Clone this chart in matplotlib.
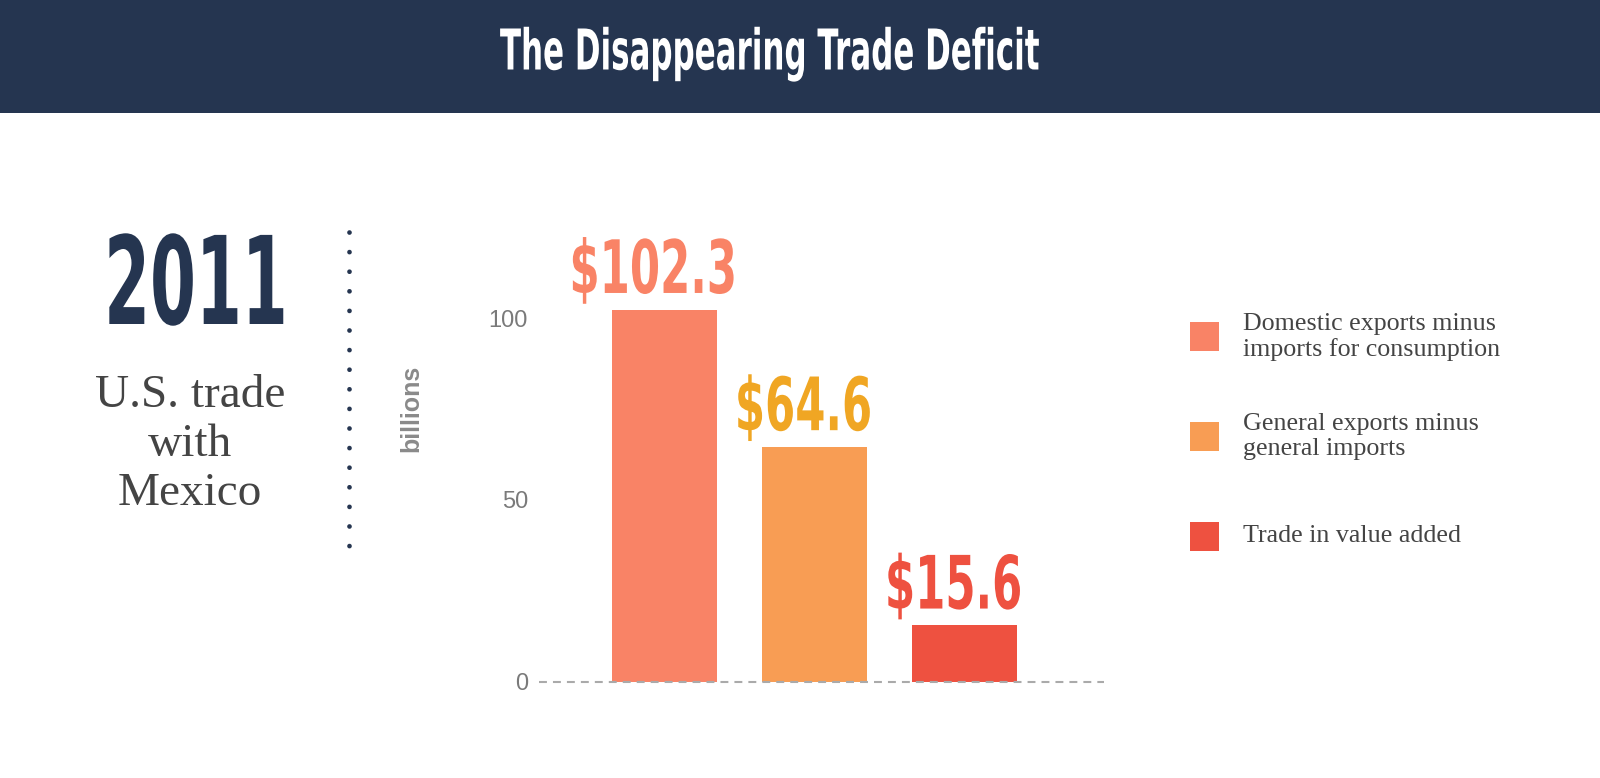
import numpy as np
import matplotlib
matplotlib.use("Agg")
import matplotlib.pyplot as plt
from matplotlib.patches import Rectangle
from matplotlib.lines import Line2D
from matplotlib.patheffects import AbstractPathEffect
from matplotlib.transforms import Affine2D

# ---------------- data ----------------
title = "The Disappearing Trade Deficit"
year = "2011"
subtitle = "U.S. trade\nwith\nMexico"
categories = ["Domestic exports minus\nimports for consumption",
              "General exports minus\ngeneral imports",
              "Trade in value added"]
values = [102.3, 64.6, 15.6]
value_labels = ["$102.3", "$64.6", "$15.6"]
yticks = [0, 50, 100]
ylabel = "billions"

# ---------------- styles ----------------
bar_colors = ["#F98366", "#F89D54", "#EE5140"]
label_colors = ["#F98366", "#F0A623", "#EE5140"]
NAVY = "#253550"
GREY_TXT = "#444444"


class Squeeze(AbstractPathEffect):
    """Horizontally condense glyphs about the centre of each text line."""
    def __init__(self, sx):
        super().__init__()
        self.sx = sx

    def draw_path(self, renderer, gc, tpath, affine, rgbFace=None):
        v = tpath.vertices
        xc = 0.5 * (v[:, 0].min() + v[:, 0].max()) if len(v) else 0.0
        t = Affine2D().translate(-xc, 0).scale(self.sx, 1).translate(xc, 0) + affine
        renderer.draw_path(gc, tpath, t, rgbFace)


W, H = 1600, 778
fig = plt.figure(figsize=(W / 100, H / 100), dpi=100)
fig.patch.set_facecolor("white")


def fx(px):
    return px / W


def fy(py):
    return 1 - py / H


# header band
fig.add_artist(Rectangle((0, fy(113)), 1, 113 / H, transform=fig.transFigure,
                         color=NAVY, zorder=0, lw=0))
fig.text(fx(770), fy(69.5), title, ha="center", va="baseline", fontsize=40.5,
         fontweight="bold", color="white", family="DejaVu Sans",
         path_effects=[Squeeze(0.55)])

# left block
fig.text(fx(198), fy(324), year, ha="center", va="baseline", fontsize=88,
         fontweight="bold", color=NAVY, family="DejaVu Sans",
         path_effects=[Squeeze(0.54)])
fig.text(fx(190), fy(375), subtitle, ha="center", va="top", fontsize=34,
         family="Liberation Serif", color=GREY_TXT, multialignment="center")

# dotted divider
fig.add_artist(Line2D([fx(349), fx(349)], [fy(231.7), fy(545.5)],
                      transform=fig.transFigure, color=NAVY, lw=3.4,
                      ls=(0, (0.01, 4.14)), dash_capstyle="round"))

# ---------------- bar chart ----------------
ymax = 110
px_per_unit = 3.64
ax = fig.add_axes([fx(539), (H - 682) / H, 565 / W, px_per_unit * ymax / H])
ax.set_facecolor("none")
x = np.arange(len(values))
ax.bar(x, values, width=0.7, color=bar_colors, edgecolor="none", zorder=2, lw=0)
ax.set_xlim(-0.837, 2.93)
ax.set_ylim(0, ymax)
ax.axhline(0, color="#aaaaaa", lw=1.5, ls=(0, (3.8, 2.9)), zorder=3, clip_on=False)

for xi, v, lab, c in zip(x, values, value_labels, label_colors):
    ax.annotate(lab, xy=(xi, v), xytext=(-7.2, 12), textcoords="offset points",
                ha="center", va="baseline", fontsize=53, fontweight="bold",
                color=c, family="DejaVu Sans", parse_math=False,
                path_effects=[Squeeze(0.59)], annotation_clip=False)

ax.set_xticks([])
ax.set_yticks(yticks)
ax.set_yticklabels([str(t) for t in yticks], family="Liberation Sans")
ax.tick_params(axis="y", length=0, pad=8, labelsize=17, labelcolor="#7a7a7a")
for s in ax.spines.values():
    s.set_visible(False)

ax.set_ylabel(ylabel, fontsize=18, fontweight="bold", color="#8a8a8a",
              family="Liberation Sans", va="center")
ax.yaxis.set_label_coords((411 - 539) / 565, (682 - 408) / (px_per_unit * ymax))

# ---------------- legend ----------------
sq = 29
for i, (lab, c) in enumerate(zip(categories, bar_colors)):
    cy = 337 + 99.5 * i
    fig.add_artist(Rectangle((fx(1190), fy(cy + sq / 2)), sq / W, sq / H,
                             transform=fig.transFigure, color=c, lw=0))
    fig.text(fx(1243), fy(cy), lab, ha="left", va="center", fontsize=18.7,
             family="Liberation Serif", color=GREY_TXT, linespacing=1.13)

fig.savefig("out.png", dpi=100, facecolor="white")
